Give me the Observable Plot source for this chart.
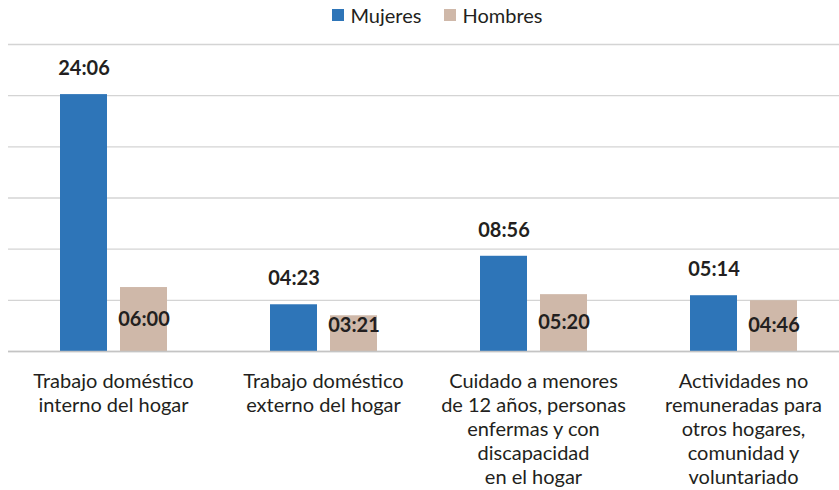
<!DOCTYPE html>
<html>
<head>
<meta charset="utf-8">
<script src="https://cdn.jsdelivr.net/npm/d3@7"></script>
<script src="https://cdn.jsdelivr.net/npm/@observablehq/plot@0.6"></script>
<style>
  html, body { margin: 0; padding: 0; background: #fff; overflow: hidden; }
  body { width: 839px; height: 490px; font-family: Lato, "Open Sans", sans-serif; color: #231f20; }
  #legend { height: 30px; display: flex; justify-content: center; align-items: center; font-size: 20px; gap: 23px; padding-left: 36px; box-sizing: border-box; }
  #legend span.item { display: flex; align-items: center; }
  #legend span.sw { display: inline-block; width: 12px; height: 12px; margin-right: 6px; }
  #chart svg { max-width: none !important; }
</style>
</head>
<body>
<div id="legend"></div>
<div id="chart"></div>
<script>
const categories = [
  "Trabajo doméstico interno del hogar",
  "Trabajo doméstico externo del hogar",
  "Cuidado a menores de 12 años, personas enfermas y con discapacidad en el hogar",
  "Actividades no remuneradas para otros hogares, comunidad y voluntariado"
];
const categoryLabels = [
  "Trabajo doméstico\ninterno del hogar",
  "Trabajo doméstico\nexterno del hogar",
  "Cuidado a menores\nde 12 años, personas\nenfermas y con\ndiscapacidad\nen el hogar",
  "Actividades no\nremuneradas para\notros hogares,\ncomunidad y\nvoluntariado"
];
const series = ["Mujeres", "Hombres"];
const colors = ["#2e75b8", "#cfb8a9"];
const mujeres = ["24:06", "04:23", "08:56", "05:14"];
const hombres = ["06:00", "03:21", "05:20", "04:46"];
const gridTicks = [0, 4.8, 9.6, 14.4, 19.2, 24, 28.8];

const toHours = s => { const [h, m] = s.split(":").map(Number); return h + m / 60; };
const rows = [];
categories.forEach((c, i) => {
  rows.push({cat: c, sex: "Mujeres", label: mujeres[i], hours: toHours(mujeres[i])});
  rows.push({cat: c, sex: "Hombres", label: hombres[i], hours: toHours(hombres[i])});
});
const labelOf = new Map(categories.map((c, i) => [c, categoryLabels[i]]));

const legend = document.getElementById("legend");
series.forEach((s, i) => {
  const it = document.createElement("span");
  it.className = "item";
  it.innerHTML = `<span class="sw" style="background:${colors[i]}"></span>${s}`;
  legend.appendChild(it);
});

const ink = "#231f20";
const chart = Plot.plot({
  width: 849,
  height: 460,
  marginLeft: 6,
  marginRight: 0,
  marginTop: 14,
  marginBottom: 139,
  style: {fontFamily: "Lato, 'Open Sans', sans-serif", color: ink, background: "#fff", overflow: "visible", maxWidth: "none"},
  fx: {domain: categories, padding: 0, axis: null},
  x: {domain: series, paddingInner: 0.217, paddingOuter: 0.842, axis: null},
  y: {domain: [0, 28.8], axis: null},
  color: {domain: series, range: colors},
  marks: [
    Plot.gridY(gridTicks, {stroke: "#d4d4d4", strokeOpacity: 1, strokeWidth: 1.3}),
    Plot.barY(rows, {fx: "cat", x: "sex", y: "hours", fill: "sex"}),
    Plot.ruleY([0], {stroke: "#c4c4c4", strokeWidth: 1.5}),
    Plot.text(rows.filter(d => d.sex === "Mujeres"), {
      fx: "cat", x: "sex", y: "hours", text: "label", dy: -26,
      fontSize: 20, fontWeight: "bold", fill: ink
    }),
    Plot.text(rows.filter(d => d.sex === "Hombres"), {
      fx: "cat", x: "sex", y: d => Math.max(d.hours / 2, 2.4), text: "label",
      fontSize: 20, fontWeight: "bold", fill: ink
    }),
    Plot.text(categories, {
      fx: d => d, text: d => labelOf.get(d), frameAnchor: "bottom",
      lineAnchor: "top", dy: 19, fontSize: 20, lineHeight: 1.2, fill: ink
    })
  ]
});
document.getElementById("chart").appendChild(chart);
</script>
</body>
</html>
